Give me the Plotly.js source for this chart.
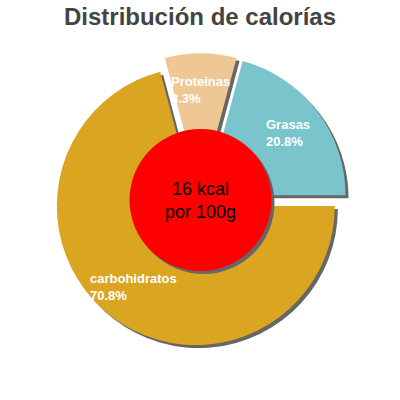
<!DOCTYPE html>
<html>
<head>
<meta charset="utf-8">
<script src="https://cdn.plot.ly/plotly-3.0.1.min.js"></script>
<style>
  html, body { margin: 0; padding: 0; background: #fff; }
  #chart { width: 400px; height: 400px; }
</style>
</head>
<body>
<div id="chart"></div>
<script>
/* calorie split */
var LABELS = ["Grasas", "Proteinas", "carbohidratos"];
var VALUES = [20.8, 8.3, 70.8];
var KCAL = 16;

var COLORS = ["#7AC4CC", "#EFC794", "#DAA520"];
var SHADOW = "#666666";
var FONT = "'Liberation Sans', Arial, sans-serif";

/* pie geometry in pixels (400x400 page, no margins) */
var CX = 200.5, CY = 200, R = 139, PULL = 0.055, SHIFT = 3;
var HALF = R * (1 + PULL);

var total = VALUES.reduce(function (a, b) { return a + b; }, 0);
// plotly's ccw pie ends its first slice at `rotation`; start Grasas at 3 o'clock
var ROT = 90 - VALUES[0] / total * 360;

function dom(dx, dy) {
  return {
    x: [(CX - HALF + dx) / 400, (CX + HALF + dx) / 400],
    y: [1 - (CY + HALF + dy) / 400, 1 - (CY - HALF + dy) / 400]
  };
}

var base = {
  type: "pie", labels: LABELS, values: VALUES, sort: false,
  direction: "counterclockwise", rotation: ROT,
  pull: PULL, textinfo: "none", hoverinfo: "label+percent", showlegend: false
};

var shadow = Object.assign({}, base, {
  domain: dom(SHIFT, SHIFT),
  marker: { colors: LABELS.map(function () { return SHADOW; }), line: { width: 0 } },
  hoverinfo: "skip"
});
var pie = Object.assign({}, base, {
  domain: dom(0, 0),
  marker: { colors: COLORS, line: { width: 0 } }
});

/* slice labels on each bisector, ~0.79 R out */
var acc = 0;
var annotations = VALUES.map(function (v, i) {
  var mid = (acc + v / 2) / total * 2 * Math.PI;
  acc += v;
  var r = R * 0.79;
  return {
    xref: "paper", yref: "paper",
    x: (CX + r * Math.cos(mid)) / 400,
    y: 1 - (CY - r * Math.sin(mid)) / 400,
    xanchor: "center", yanchor: "middle", align: "left",
    text: LABELS[i] + "<br>" + v.toFixed(1) + "%",
    showarrow: false,
    font: { family: FONT, size: 13, color: "#ffffff", weight: "bold" }
  };
});

annotations.push({
  xref: "paper", yref: "paper", x: CX / 400, y: 1 - CY / 400,
  xanchor: "center", yanchor: "middle",
  text: KCAL + " kcal<br>por 100g", showarrow: false,
  font: { family: FONT, size: 18, color: "#000000" }
});

var RC = 71;
function circ(dx, dy, color) {
  return {
    type: "circle", xref: "paper", yref: "paper",
    x0: (CX - RC + dx) / 400, x1: (CX + RC + dx) / 400,
    y0: 1 - (CY + RC + dy) / 400, y1: 1 - (CY - RC + dy) / 400,
    fillcolor: color, line: { width: 0 }
  };
}

var layout = {
  width: 400, height: 400,
  margin: { t: 0, r: 0, b: 0, l: 0 },
  paper_bgcolor: "#ffffff",
  title: {
    text: "<b>Distribución de calorías</b>",
    x: 0.5, xanchor: "center", y: 1 - 17 / 400, yanchor: "middle", yref: "container",
    font: { family: FONT, size: 24, color: "#444444" }
  },
  shapes: [circ(SHIFT, SHIFT, SHADOW), circ(0, 0, "#FF0000")],
  annotations: annotations
};

Plotly.newPlot("chart", [shadow, pie], layout, { displayModeBar: false, staticPlot: true });
</script>
</body>
</html>
